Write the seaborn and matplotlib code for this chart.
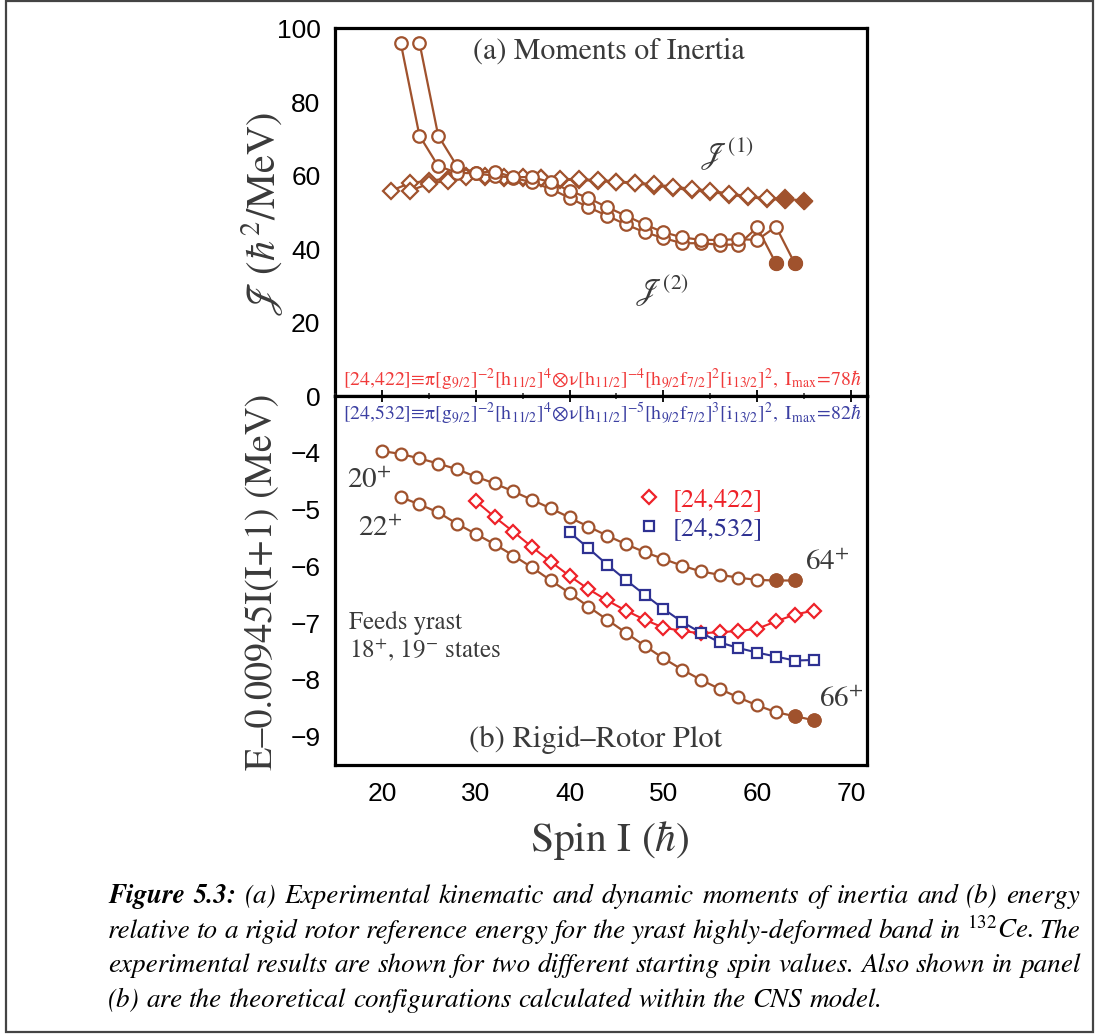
import matplotlib
matplotlib.use("Agg")
import matplotlib.pyplot as plt
import seaborn as sns
import numpy as np
import pandas as pd
from matplotlib.lines import Line2D
from matplotlib.patches import Rectangle
from matplotlib.ticker import MultipleLocator

# ---------------- data ----------------
# panel (a): dynamic moments of inertia J(2), two starting spins
spin_j2_a = [22, 24, 26, 28, 30, 32, 34, 36, 38, 40, 42, 44, 46, 48, 50, 52, 54, 56, 58, 60, 62]
j2_a = [96.2, 70.9, 62.6, 60.8, 60.6, 60.0, 59.4, 58.2, 56.4, 53.9, 51.4, 49.1, 46.7, 44.6,
        43.0, 41.6, 41.6, 41.2, 41.2, 45.9, 36.1]
spin_j2_b = [24, 26, 28, 30, 32, 34, 36, 38, 40, 42, 44, 46, 48, 50, 52, 54, 56, 58, 60, 62, 64]
j2_b = [96.2, 70.9, 62.6, 60.8, 61.1, 59.6, 59.6, 58.2, 55.9, 53.9, 51.4, 49.1, 46.7, 44.6,
        43.2, 42.5, 42.5, 42.7, 42.5, 46.1, 36.1]
# kinematic moments of inertia J(1)
spin_j1_a = [21, 23, 25, 27, 29, 31, 33, 35, 37, 39, 41, 43, 45, 47, 49, 51, 53, 55, 57, 59, 61, 63]
j1_a = [55.9, 58.0, 58.6, 59.2, 59.8, 59.5, 59.3, 59.4, 59.3, 58.9, 58.8, 58.6, 58.2, 57.9,
        57.3, 56.7, 56.0, 55.6, 54.8, 54.2, 53.6, 53.5]
spin_j1_b = [23, 25, 27, 29, 31, 33, 35, 37, 39, 41, 43, 45, 47, 49, 51, 53, 55, 57, 59, 61, 63, 65]
j1_b = [55.9, 57.8, 58.6, 59.5, 60.0, 59.6, 59.5, 59.4, 59.1, 59.0, 58.8, 58.4, 58.1, 57.6,
        57.0, 56.4, 55.9, 55.1, 54.4, 53.8, 53.8, 53.1]
n_filled_j2 = 1          # last point of each J(2) series is tentative (filled)
n_filled_j1_a = 1
n_filled_j1_b = 2

# panel (b): E - 0.00945 I(I+1)
spin_band_a = [20, 22, 24, 26, 28, 30, 32, 34, 36, 38, 40, 42, 44, 46, 48, 50, 52, 54, 56, 58, 60, 62, 64]
e_band_a = [-3.97, -4.02, -4.10, -4.19, -4.29, -4.42, -4.54, -4.68, -4.83, -4.98, -5.14, -5.30,
            -5.46, -5.61, -5.75, -5.87, -5.99, -6.09, -6.15, -6.20, -6.24, -6.25, -6.25]
spin_band_b = [22, 24, 26, 28, 30, 32, 34, 36, 38, 40, 42, 44, 46, 48, 50, 52, 54, 56, 58, 60, 62, 64, 66]
e_band_b = [-4.78, -4.91, -5.05, -5.25, -5.43, -5.61, -5.81, -6.02, -6.25, -6.47, -6.71, -6.94,
            -7.17, -7.40, -7.62, -7.82, -8.00, -8.16, -8.31, -8.45, -8.57, -8.64, -8.71]
n_filled_band = 2
spin_422 = [30, 32, 34, 36, 38, 40, 42, 44, 46, 48, 50, 52, 54, 56, 58, 60, 62, 64, 66]
e_422 = [-4.85, -5.13, -5.39, -5.66, -5.92, -6.17, -6.40, -6.60, -6.78, -6.94, -7.08, -7.14,
         -7.18, -7.16, -7.14, -7.10, -6.97, -6.85, -6.78]
spin_532 = [40, 42, 44, 46, 48, 50, 52, 54, 56, 58, 60, 62, 64, 66]
e_532 = [-5.40, -5.68, -5.97, -6.24, -6.50, -6.75, -6.98, -7.17, -7.34, -7.44, -7.52, -7.59,
         -7.66, -7.65]

legend_labels = ["[24,422]", "[24,532]"]
x_ticks = [20, 30, 40, 50, 60, 70]
top_y_ticks = [0, 20, 40, 60, 80, 100]
bottom_y_ticks = [-9, -8, -7, -6, -5, -4]

caption_lines = [
    "Figure 5.3: (a) Experimental kinematic and dynamic moments of inertia and (b) energy",
    r"relative to a rigid rotor reference energy for the yrast highly-deformed band in $^{\mathit{132}}$Ce. The",
    "experimental results are shown for two different starting spin values. Also shown in panel",
    "(b) are the theoretical configurations calculated within the CNS model.",
]

# ---------------- styling ----------------
BROWN = "#A0522D"
RED = "#EE2229"
BLUE = "#2E3192"
TXT = "#3A3A3A"

sns.set_style("white")
plt.rcParams["mathtext.fontset"] = "stix"
plt.rcParams["font.family"] = ["Liberation Sans", "DejaVu Sans"]
SERIF = "STIXGeneral"

W, H = 1096, 1035
fig = plt.figure(figsize=(W / 100, H / 100), dpi=100)


def fx(px):
    return px / W


def fy(py):
    return 1 - py / H


left, right = 335, 867
top_t, mid, bot = 28, 396, 765
ax1 = fig.add_axes([fx(left), fy(mid), (right - left) / W, (mid - top_t) / H])
ax2 = fig.add_axes([fx(left), fy(bot), (right - left) / W, (bot - mid) / H])


def open_line(ax, xs, ys, color, marker, ms, lw=1.6, mew=1.6):
    sns.lineplot(x=xs, y=ys, ax=ax, color=color, lw=lw, marker=marker, markersize=ms,
                 markerfacecolor="white", markeredgecolor=color, markeredgewidth=mew,
                 sort=False, estimator=None, legend=False)


def filled(ax, xs, ys, color, marker, ms):
    sns.scatterplot(x=xs, y=ys, ax=ax, color=color, marker=marker, s=ms ** 2,
                    edgecolor=color, linewidth=1, zorder=6, legend=False)


# panel (a)
open_line(ax1, spin_j1_a, j1_a, BROWN, "D", 8)
open_line(ax1, spin_j1_b, j1_b, BROWN, "D", 8)
filled(ax1, spin_j1_a[-n_filled_j1_a:], j1_a[-n_filled_j1_a:], BROWN, "D", 8)
filled(ax1, spin_j1_b[-n_filled_j1_b:], j1_b[-n_filled_j1_b:], BROWN, "D", 8)
open_line(ax1, spin_j2_a, j2_a, BROWN, "o", 9)
open_line(ax1, spin_j2_b, j2_b, BROWN, "o", 9)
filled(ax1, spin_j2_a[-n_filled_j2:], j2_a[-n_filled_j2:], BROWN, "o", 10)
filled(ax1, spin_j2_b[-n_filled_j2:], j2_b[-n_filled_j2:], BROWN, "o", 10)

# panel (b)
open_line(ax2, spin_band_a, e_band_a, BROWN, "o", 8.5)
open_line(ax2, spin_band_b, e_band_b, BROWN, "o", 8.5)
filled(ax2, spin_band_a[-n_filled_band:], e_band_a[-n_filled_band:], BROWN, "o", 9.5)
filled(ax2, spin_band_b[-n_filled_band:], e_band_b[-n_filled_band:], BROWN, "o", 9.5)
open_line(ax2, spin_422, e_422, RED, "D", 7.5, lw=1.5)
open_line(ax2, spin_532, e_532, BLUE, "s", 7, lw=1.5)

# axes setup
for ax in (ax1, ax2):
    ax.set_xlim(15, 71.7)
    ax.xaxis.set_major_locator(MultipleLocator(10))
    ax.xaxis.set_minor_locator(MultipleLocator(5))
    for s in ax.spines.values():
        s.set_linewidth(2.3)
        s.set_color("black")
    ax.tick_params(axis="both", which="major", direction="inout", length=9, width=1.3,
                   labelsize=19, colors="black", pad=6)
    ax.tick_params(axis="both", which="minor", direction="inout", length=5, width=1.1)
    ax.tick_params(top=False, right=False)
    ax.set_xlabel("")
    ax.set_ylabel("")

ax1.set_ylim(0, 100.2)
ax1.set_yticks(top_y_ticks)
ax1.yaxis.set_minor_locator(MultipleLocator(10))
ax1.tick_params(axis="x", which="both", labelbottom=False)
ax1.set_xticks(x_ticks)

ax2.set_ylim(-9.5, -3.0)
ax2.set_yticks(bottom_y_ticks)
ax2.yaxis.set_minor_locator(MultipleLocator(0.5))
ax2.set_xticks(x_ticks)
ax2.tick_params(axis="x", which="both", top=True, labeltop=False)
ax2.tick_params(axis="x", which="major", pad=8)
ax2.spines["top"].set_linewidth(2.3)

# texts panel (a)
ax1.text(0.515, 0.935, "(a) Moments of Inertia", transform=ax1.transAxes, ha="center",
         va="center", fontsize=21.5, family=SERIF, color=TXT)
ax1.text(53.9, 66.0, r"$\mathscr{J}^{(1)}$", fontsize=22, color=TXT, ha="left", va="center")
ax1.text(47.0, 28.5, r"$\mathscr{J}^{(2)}$", fontsize=22, color=TXT, ha="left", va="center")
cfg422 = (r"$\mathrm{[24{,}422]}\!\equiv\!\mathrm{π}[\mathrm{g}_{9/2}]^{-2}[\mathrm{h}_{11/2}]^{4}"
          r"\!\otimes\!\mathrm{ν}"
          r"[\mathrm{h}_{11/2}]^{-4}[\mathrm{h}_{9/2}\mathrm{f}_{7/2}]^{2}[\mathrm{i}_{13/2}]^{2},"
          r"\ \mathrm{I}_{\mathrm{max}}\!=\!78\hbar$")
cfg532 = (r"$\mathrm{[24{,}532]}\!\equiv\!\mathrm{π}[\mathrm{g}_{9/2}]^{-2}[\mathrm{h}_{11/2}]^{4}"
          r"\!\otimes\!\mathrm{ν}"
          r"[\mathrm{h}_{11/2}]^{-5}[\mathrm{h}_{9/2}\mathrm{f}_{7/2}]^{3}[\mathrm{i}_{13/2}]^{2},"
          r"\ \mathrm{I}_{\mathrm{max}}\!=\!82\hbar$")
fig.text(fx(343), fy(380), cfg422, fontsize=14.2, color="#F03A3A", ha="left", va="center")
fig.text(fx(343), fy(414), cfg532, fontsize=14.2, color="#3B3FA2", ha="left", va="center")

# texts panel (b)
ax2.text(0.49, 0.068, "(b) Rigid\u2013Rotor Plot", transform=ax2.transAxes, ha="center",
         va="center", fontsize=22, family=SERIF, color=TXT)
ax2.text(16.3, -4.5, r"20$^{+}$", fontsize=21, family=SERIF, color=TXT, ha="left", va="center")
ax2.text(17.5, -5.35, r"22$^{+}$", fontsize=21, family=SERIF, color=TXT, ha="left", va="center")
ax2.text(65.1, -5.95, r"64$^{+}$", fontsize=21, family=SERIF, color=TXT, ha="left", va="center")
ax2.text(66.6, -8.35, r"66$^{+}$", fontsize=21, family=SERIF, color=TXT, ha="left", va="center")
ax2.text(16.5, -7.25, "Feeds yrast\n18$^{+}$, 19$^{-}$ states", fontsize=18, family=SERIF,
         color=TXT, ha="left", va="center", linespacing=1.05)

handles = [
    Line2D([], [], ls="none", marker="D", ms=7.5, mfc="white", mec=RED, mew=1.6),
    Line2D([], [], ls="none", marker="s", ms=7, mfc="white", mec=BLUE, mew=1.6),
]
leg = ax2.legend(handles, legend_labels, loc="upper left", bbox_to_anchor=(0.52, 0.815),
                 frameon=False, handlelength=1.0, handletextpad=0.4, labelspacing=0.15,
                 prop={"family": SERIF, "size": 19}, labelcolor=[RED, BLUE])

# axis labels
fig.text(fx(262), fy(214), r"$\mathscr{J}\ (\hbar^{2}/\mathrm{MeV})$", rotation=90, fontsize=29,
         color=TXT, ha="center", va="center")
fig.text(fx(262), fy(582), "E\u20130.00945I(I+1) (MeV)", rotation=90, fontsize=27.5,
         family=SERIF, color=TXT, ha="center", va="center")
fig.text(fx(610), fy(840), r"Spin I ($\hbar$)", fontsize=30, family=SERIF, color=TXT,
         ha="center", va="center")

# border around the figure
fig.patches.append(Rectangle((fx(6), fy(1032)), fx(1093) - fx(6), fy(1) - fy(1032),
                             transform=fig.transFigure, fill=False, edgecolor="#444444",
                             linewidth=1.6))

# caption, justified word by word
renderer = fig.canvas.get_renderer()
x0, x1 = 108, 1080
baselines = [903, 938, 972, 1007]
cap_size = 19.5


def make_words(line, idx):
    out = []
    for k, w in enumerate(line.split(" ")):
        bold = (idx == 0 and k < 2)
        out.append((w, "bold" if bold else "normal"))
    return out


def measure(words, size):
    ws = []
    for w, wt in words:
        t = fig.text(0, 0, w, fontsize=size, family=SERIF, style="italic", weight=wt)
        ws.append(t.get_window_extent(renderer).width)
        t.remove()
    return ws


sp_t = fig.text(0, 0, "a a", fontsize=cap_size, family=SERIF, style="italic")
sp_w = sp_t.get_window_extent(renderer).width
sp_t.remove()
sp_t = fig.text(0, 0, "aa", fontsize=cap_size, family=SERIF, style="italic")
sp_w -= sp_t.get_window_extent(renderer).width
sp_t.remove()
for i, line in enumerate(caption_lines):
    ws = measure(make_words(line, i), cap_size)
    nat = sum(ws) + sp_w * 0.6 * (len(ws) - 1)
    if nat > (x1 - x0):
        cap_size = cap_size * (x1 - x0) / nat

for i, line in enumerate(caption_lines):
    words = make_words(line, i)
    ws = measure(words, cap_size)
    if i < len(caption_lines) - 1:
        gap = ((x1 - x0) - sum(ws)) / (len(ws) - 1)
    else:
        gap = sp_w * cap_size / 19.5
    x = x0
    for (w, wt), wd in zip(words, ws):
        fig.text(fx(x), fy(baselines[i]), w, fontsize=cap_size, family=SERIF, style="italic",
                 weight=wt, color="black", ha="left", va="baseline")
        x += wd + gap

fig.savefig("out.png", dpi=100)
